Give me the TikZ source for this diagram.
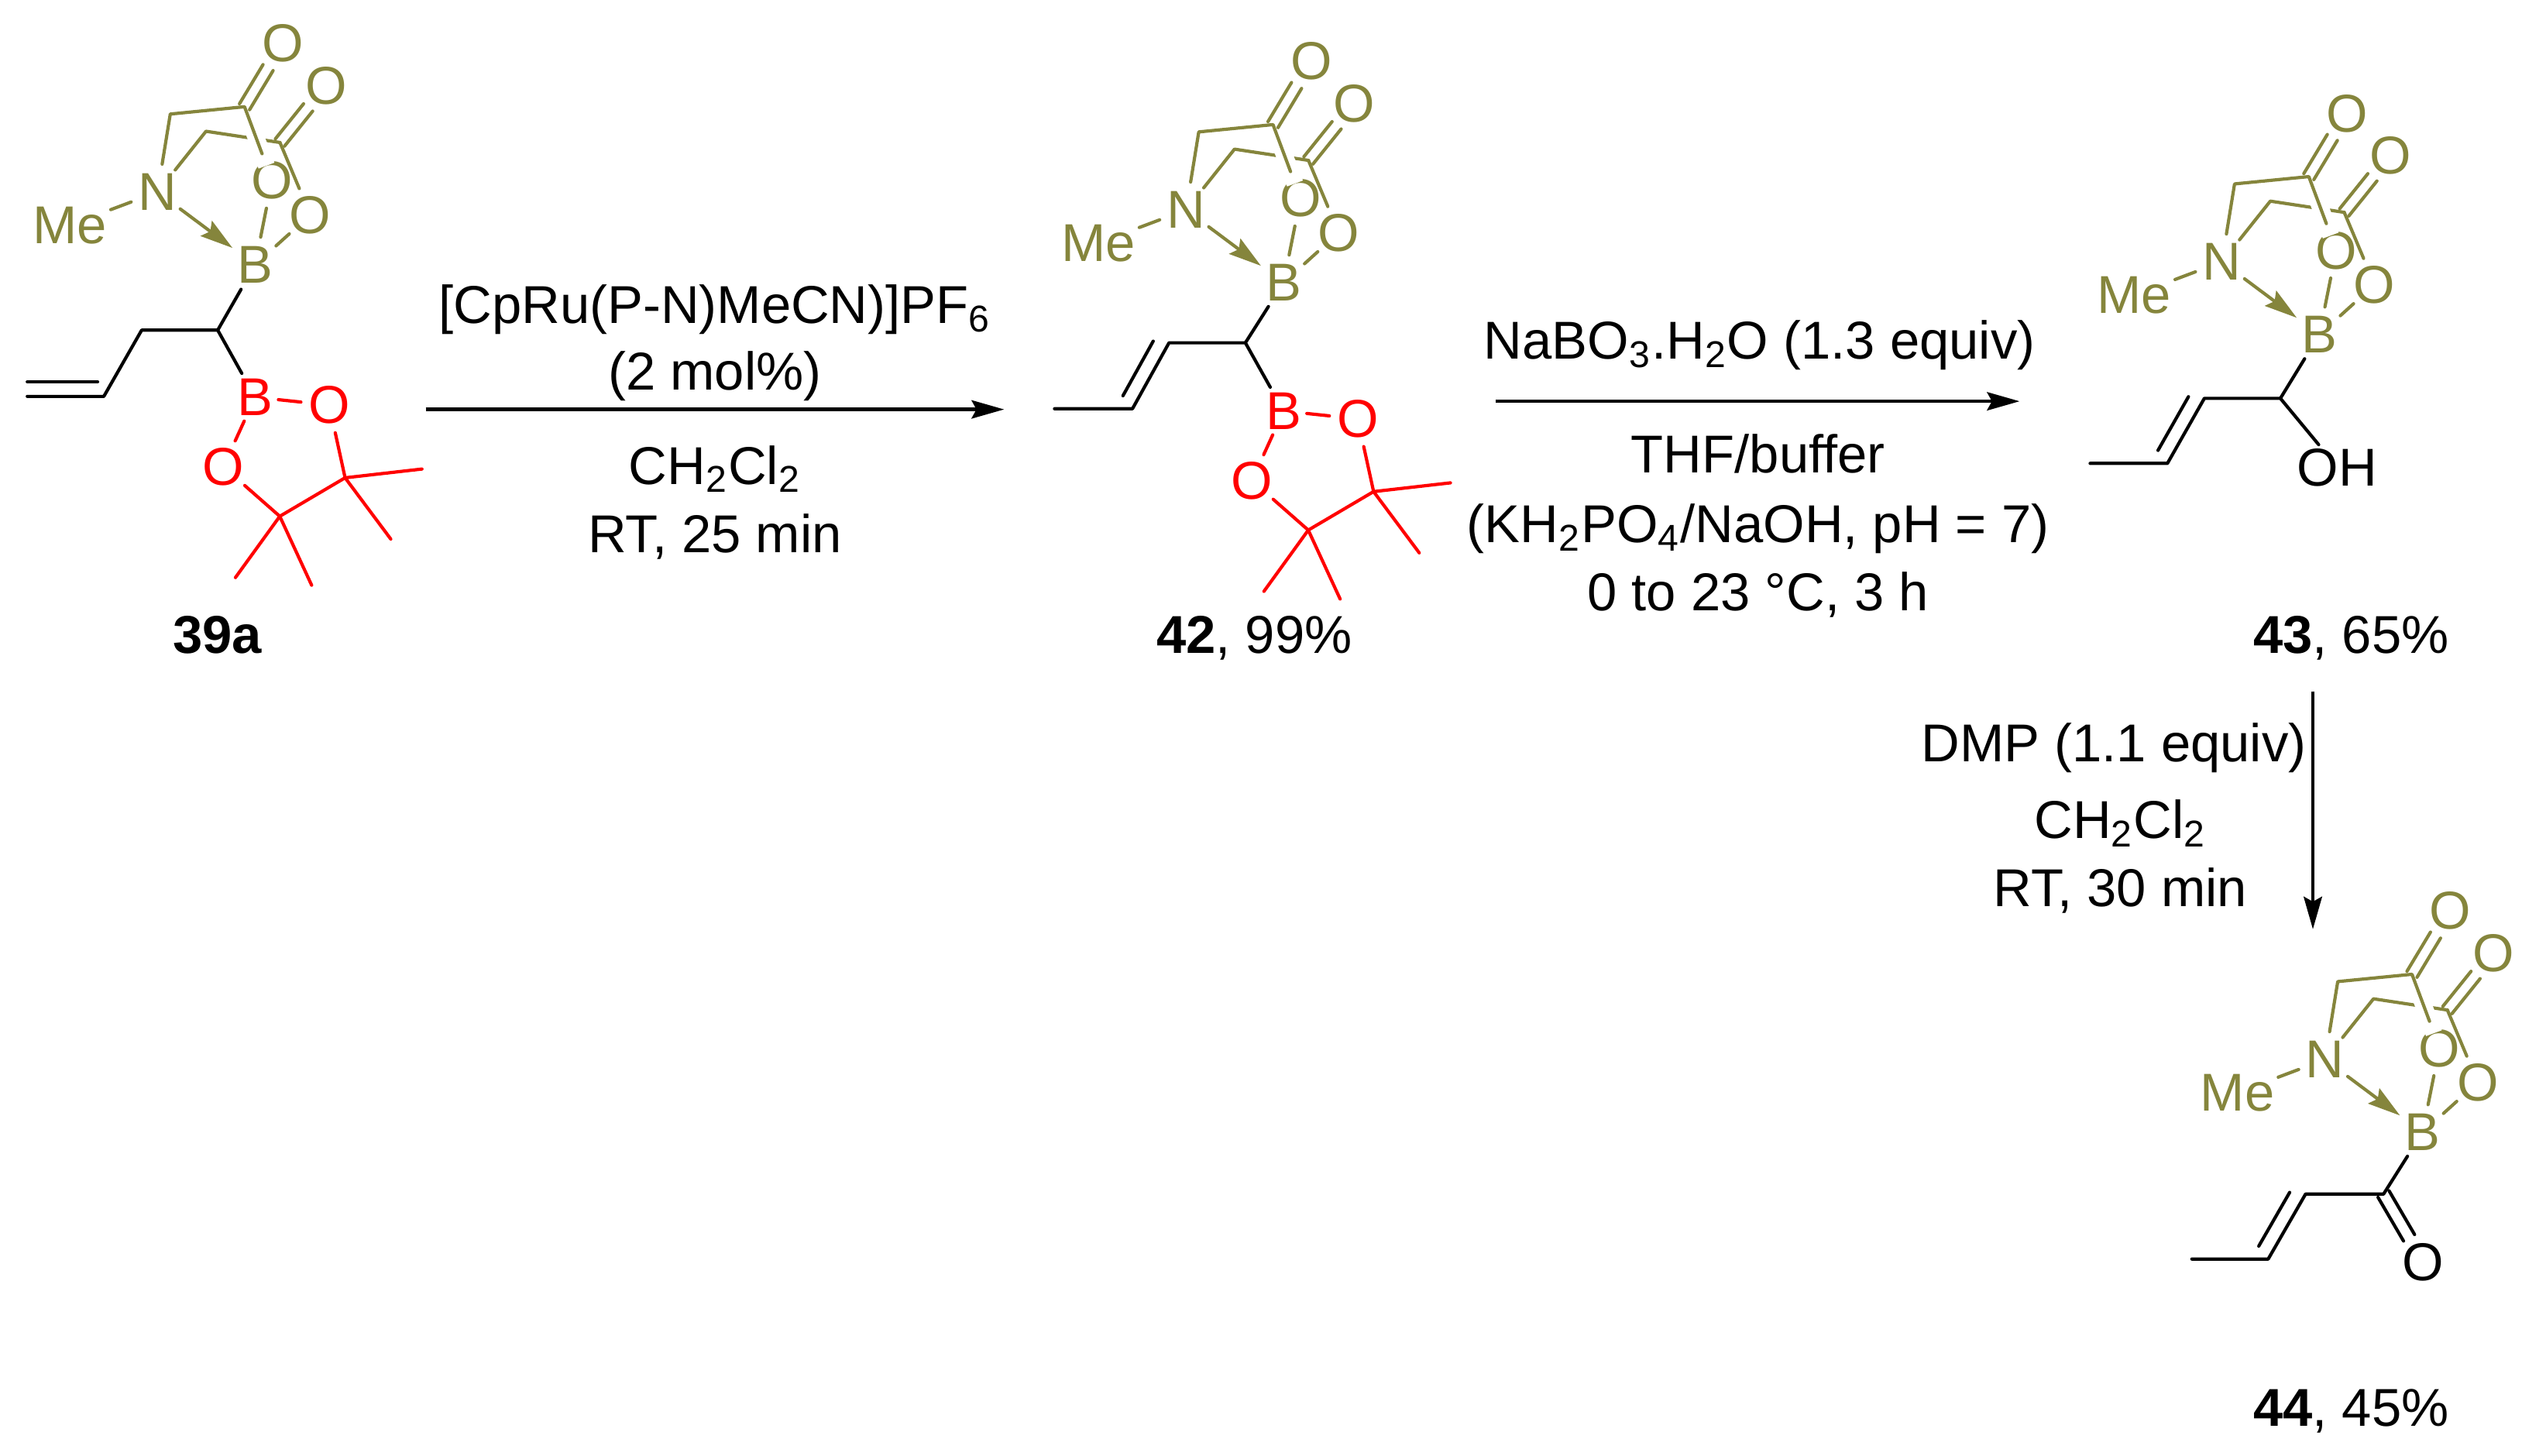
\documentclass[tikz,border=0pt]{standalone}
\usepackage{fontspec}
\setmainfont{Liberation Sans}
\usetikzlibrary{arrows.meta,calc}
\definecolor{cageolive}{HTML}{85853C}
\tikzset{
  bond/.style={line width=1pt,line cap=round,line join=round},
  atom/.style={circle,inner sep=0pt,minimum size=17pt,text depth=0pt,font=\fontsize{16.4}{18}\selectfont},
  boron/.style={rectangle,inner sep=1.5pt,text depth=0pt,font=\fontsize{16.4}{18}\selectfont},
  group/.style={inner sep=1pt,text depth=0pt,font=\fontsize{16.4}{18}\selectfont},
  lab/.style={anchor=base,inner sep=0pt,font=\fontsize{16.4}{18}\selectfont},
  rxn/.style={line width=1.1pt,-{Stealth[length=10pt,width=5.6pt,inset=1.5pt]}}
}
% #1 = prefix, #2 = position of the B atom
\providecommand{\Cage}[2]{
\begin{scope}[shift={(#2)},cageolive]
\node[atom,text=cageolive] (#1B) at (0,0) {B};
\node[atom,text=cageolive] (#1N) at (-60,-44.8) {N};
\node[group,text=cageolive] (#1Me) at (-114,-24.5) {Me};
\node[atom,text=cageolive] (#1Oa) at (10.4,-52) {O};
\node[atom,text=cageolive] (#1Ob) at (34,-30.8) {O};
\node[atom,text=cageolive] (#1Oc) at (17,-136.4) {O};
\node[atom,text=cageolive] (#1Od) at (43.6,-110.5) {O};
\coordinate (#1Ha) at (-52.2,-92.8);
\coordinate (#1Hb) at (-30.2,-82.2);
\coordinate (#1Ca) at (-6.5,-97.3);
\coordinate (#1Cb) at (15.3,-75.3);
\draw[bond] (#1N) -- (#1Hb) -- (#1Cb);
\draw[white,line width=5.2pt] ($(#1Ca)!.35!(#1Oa)$) -- ($(#1Ca)!.8!(#1Oa)$);
\draw[bond] (#1N) -- (#1Ha) -- (#1Ca) -- (#1Oa) -- (#1B);
\draw[bond] (#1Cb) -- (#1Ob) -- (#1B);
\draw[bond] (#1N) -- (#1Me);
\draw[bond,transform canvas={xshift=-1.55pt,yshift=.92pt}] (#1Ca) -- (#1Oc);
\draw[bond,transform canvas={xshift=1.55pt,yshift=-.92pt}] (#1Ca) -- (#1Oc);
\draw[bond,transform canvas={xshift=-1.4pt,yshift=1.13pt}] (#1Cb) -- (#1Od);
\draw[bond,transform canvas={xshift=1.4pt,yshift=-1.13pt}] (#1Cb) -- (#1Od);
\draw[bond,-{Stealth[length=10pt,width=5.8pt,inset=1.5pt]}] (#1N) -- (#1B);
\end{scope}
}
% #1 = prefix, #2 = position of the red B atom
\providecommand{\Pinacol}[2]{
\begin{scope}[shift={(#2)},red]
\node[boron,text=red] (#1B) at (0,0) {B};
\node[atom,text=red] (#1Oa) at (45.6,4.8) {O};
\node[atom,text=red] (#1Ob) at (-19.5,42.8) {O};
\coordinate (#1Ca) at (55.4,49.6);
\coordinate (#1Cb) at (15.2,73.3);
\coordinate (#1Ma) at (102.7,44.2);
\coordinate (#1Mb) at (83.5,87.3);
\coordinate (#1Mc) at (-12.1,111);
\coordinate (#1Md) at (34.8,115.7);
\draw[bond] (#1B) -- (#1Oa) -- (#1Ca) -- (#1Cb) -- (#1Ob) -- (#1B);
\draw[bond] (#1Ma) -- (#1Ca) -- (#1Mb);
\draw[bond] (#1Mc) -- (#1Cb) -- (#1Md);
\end{scope}
}
\begin{document}
\begin{tikzpicture}[x=.5pt,y=-.5pt]
\useasboundingbox (0,0) rectangle (1567,896.2);
%39a
\Cage{a}{157,163}
\Pinacol{p}{157,244.5}
\coordinate (aCH) at (134,203.2);
\coordinate (aCt) at (87.2,203.2);
\coordinate (aCe) at (63.9,244);
\coordinate (aEnd) at (16.8,244);
\draw[bond] (aB) -- (aCH) -- (pB);
\draw[bond] (aCH) -- (aCt) -- (aCe) -- (aEnd);
\draw[bond,shorten <=1.9pt,transform canvas={yshift=4.5pt}] (aCe) -- (aEnd);
\node[lab] (lbla) at (134,402) {\textbf{39a}};
%42
\Cage{b}{790,174}
\Pinacol{q}{790,253}
\coordinate (bCH) at (766.5,211);
\coordinate (bCt) at (719.5,211);
\coordinate (bCe) at (697,251.6);
\coordinate (bEnd) at (649,251.6);
\draw[bond] (bB) -- (bCH) -- (qB);
\draw[bond] (bCH) -- (bCt) -- (bCe) -- (bEnd);
\draw[bond,shorten <=2pt,shorten >=2pt,transform canvas={xshift=-3.9pt,yshift=2.25pt}] (bCe) -- (bCt);
\node[lab] (lblb) at (772,402) {\textbf{42}, 99\%};
%43
\Cage{c}{1427.5,206}
\coordinate (cCH) at (1403.5,245.2);
\coordinate (cCt) at (1356.7,245.2);
\coordinate (cCe) at (1334,285.2);
\coordinate (cEnd) at (1286.4,285.2);
\node[group] (cOH) at (1438.5,287.5) {OH};
\draw[bond] (cB) -- (cCH) -- (cOH);
\draw[bond] (cCH) -- (cCt) -- (cCe) -- (cEnd);
\draw[bond,shorten <=2pt,shorten >=2pt,transform canvas={xshift=-3.9pt,yshift=2.25pt}] (cCe) -- (cCt);
\node[lab] (lblc) at (1447,402) {\textbf{43}, 65\%};
%44
\Cage{d}{1491,697}
\coordinate (dCO) at (1467,735);
\coordinate (dCt) at (1419,735);
\coordinate (dCe) at (1396,775);
\coordinate (dEnd) at (1349,775);
\node[atom] (dO) at (1491.5,777) {O};
\draw[bond] (dB) -- (dCO) -- (dCt) -- (dCe) -- (dEnd);
\draw[bond,shorten <=2pt,shorten >=2pt,transform canvas={xshift=-3.9pt,yshift=2.25pt}] (dCe) -- (dCt);
\draw[bond,transform canvas={xshift=1.7pt,yshift=1pt}] (dCO) -- (dO);
\draw[bond,transform canvas={xshift=-1.7pt,yshift=-1pt}] (dCO) -- (dO);
\node[lab] (lbld) at (1447,878) {\textbf{44}, 45\%};
%arrows
\coordinate (ra) at (262,252);
\coordinate (rb) at (618,252);
\coordinate (rc) at (920.5,247);
\coordinate (rd) at (1243,247);
\coordinate (re) at (1423.5,425.5);
\coordinate (rf) at (1423.5,572);
\draw[rxn] (ra) -- (rb);
\draw[rxn] (rc) -- (rd);
\draw[rxn] (re) -- (rf);
%conditions
\node[lab] (ta) at (440,199) {[CpRu(P-N)MeCN)]PF\textsubscript{6}};
\node[lab] (tb) at (440,240) {(2 mol\%)};
\node[lab] (tc) at (440,298) {CH\textsubscript{2}Cl\textsubscript{2}};
\node[lab] (td) at (440,340) {RT, 25 min};
\node[lab] (te) at (1083,221) {NaBO\textsubscript{3}.H\textsubscript{2}O (1.3 equiv)};
\node[lab] (tf) at (1082,291) {THF/buffer};
\node[lab] (tg) at (1082,334) {(KH\textsubscript{2}PO\textsubscript{4}/NaOH, pH = 7)};
\node[lab] (th) at (1082,376) {0 to 23 °C, 3 h};
\node[lab] (ti) at (1301,469) {DMP (1.1 equiv)};
\node[lab] (tj) at (1305,516) {CH\textsubscript{2}Cl\textsubscript{2}};
\node[lab] (tk) at (1305,558) {RT, 30 min};
\end{tikzpicture}
\end{document}
